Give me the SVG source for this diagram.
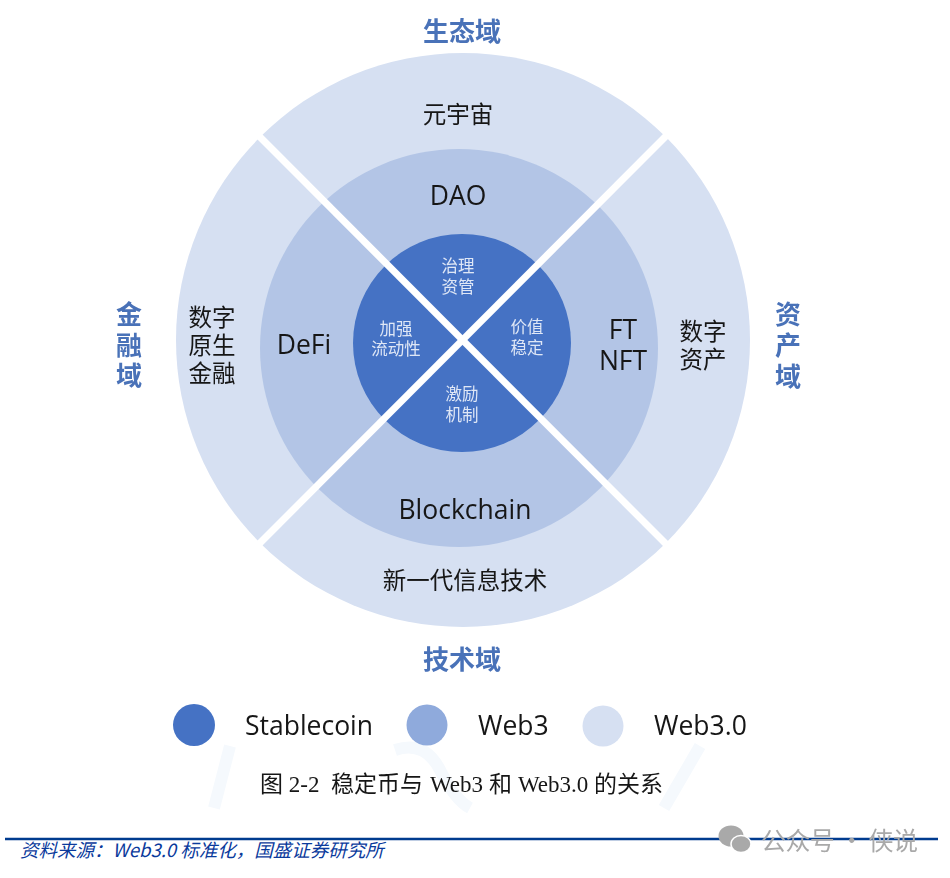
<svg xmlns="http://www.w3.org/2000/svg" width="950" height="878" viewBox="0 0 950 878">
<defs>
<filter id="soft" x="-5%" y="-5%" width="110%" height="110%"><feGaussianBlur stdDeviation="0.45"/></filter>
</defs>
<style>
text{font-family:"Open Sans","Noto Sans CJK SC",sans-serif;text-anchor:middle;fill:#161616}
.cn{font-family:"Noto Sans CJK SC",sans-serif;font-size:23.5px;font-weight:400}
.en{font-size:26.5px}
.dom{font-family:"Noto Sans CJK SC",sans-serif;font-size:26px;font-weight:700;fill:#4a72b8}
.in{font-family:"Noto Sans CJK SC",sans-serif;font-size:16.5px;fill:#dfe7f6;font-weight:400}
.leg{font-size:26.5px;text-anchor:start}
.cap{font-family:"Liberation Serif","Noto Sans CJK SC",serif;font-size:23px;text-anchor:start}
.src{font-size:18.5px;fill:#0a3a9c;text-anchor:start;font-style:italic;font-family:"Noto Sans CJK SC",sans-serif;font-weight:400}
.wm{font-family:"Noto Sans CJK SC",sans-serif;font-size:25px;fill:#a9a9a9;text-anchor:start}
</style>
<rect width="950" height="878" fill="#fff"/>
<g id="watermark" fill="none" stroke="#f5f9fd" stroke-width="12">
<path d="M230 746L214 808M700 746L664 808M395 750Q425 740 440 770T470 808"/>
</g>
<g id="rings" filter="url(#soft)">
<circle id="ring-web30" cx="463" cy="340" r="287" fill="#d6e0f2"/>
<circle id="ring-web3" cx="459" cy="348" r="199" fill="#b3c5e6"/>
<circle id="ring-stablecoin" cx="462" cy="343" r="109" fill="#4472c4"/>
</g>
<g id="connectors" stroke="#fff" stroke-width="7" fill="none">
<line x1="258" y1="135" x2="667" y2="545"/>
<line x1="667" y1="135" x2="258" y2="545"/>
</g>
<g id="domains" filter="url(#soft)">
<text class="dom" x="462" y="41">生态域</text>
<text class="dom" x="462" y="669">技术域</text>
<text id="domain-finance" class="dom"><tspan x="129" y="324">金</tspan><tspan x="129" y="355">融</tspan><tspan x="129" y="385">域</tspan></text>
<text id="domain-asset" class="dom"><tspan x="788" y="324">资</tspan><tspan x="788" y="355">产</tspan><tspan x="788" y="386">域</tspan></text>
</g>
<g id="outer-labels" filter="url(#soft)">
<text class="cn" x="458" y="123">元宇宙</text>
<text class="cn" x="465" y="589">新一代信息技术</text>
<text id="label-native" class="cn"><tspan x="212" y="326">数字</tspan><tspan x="212" y="354">原生</tspan><tspan x="212" y="382">金融</tspan></text>
<text id="label-asset" class="cn"><tspan x="703" y="340">数字</tspan><tspan x="703" y="368">资产</tspan></text>
</g>
<g id="mid-labels" filter="url(#soft)">
<text class="en" x="458" y="205">DAO</text>
<text class="en" x="304" y="354">DeFi</text>
<text class="en"><tspan x="623" y="339">FT</tspan><tspan x="623" y="370">NFT</tspan></text>
<text class="en" x="465" y="519">Blockchain</text>
</g>
<g id="inner-labels" filter="url(#soft)">
<text id="label-gov" class="in"><tspan x="458" y="272">治理</tspan><tspan x="458" y="293">资管</tspan></text>
<text id="label-liq" class="in"><tspan x="396" y="335">加强</tspan><tspan x="396" y="355">流动性</tspan></text>
<text id="label-val" class="in"><tspan x="527" y="333">价值</tspan><tspan x="527" y="354">稳定</tspan></text>
<text id="label-inc" class="in"><tspan x="462" y="400">激励</tspan><tspan x="462" y="421">机制</tspan></text>
</g>
<g id="legend" filter="url(#soft)">
<circle cx="194" cy="725" r="21" fill="#4472c4"/>
<text class="leg" x="245" y="735">Stablecoin</text>
<circle cx="427" cy="725" r="20.5" fill="#8faadc"/>
<text class="leg" x="478" y="735">Web3</text>
<circle cx="603" cy="726" r="20.5" fill="#d6e0f2"/>
<text class="leg" x="654" y="735">Web3.0</text>
</g>
<text id="caption" class="cap" y="792" filter="url(#soft)"><tspan x="260">图 2-2</tspan><tspan x="331">稳定币与</tspan><tspan x="430">Web3</tspan><tspan x="489">和</tspan><tspan x="518">Web3.0</tspan><tspan x="594">的关系</tspan></text>
<g id="footer">
<line x1="5" y1="839" x2="938" y2="839" stroke="#003b8f" stroke-width="2.5"/>
<text class="src" x="20" y="857">资料来源：Web3.0 标准化，国盛证券研究所</text>
</g>
<g id="wechat-mark" filter="url(#soft)">
<ellipse cx="731" cy="836" rx="12.5" ry="10.5" fill="#a9a9a9"/>
<ellipse cx="741" cy="844" rx="10" ry="8.5" fill="#a9a9a9" stroke="#fff" stroke-width="1.5"/>
<text class="wm" x="761" y="850" textLength="157">公众号 · 侠说</text>
</g>
</svg>
